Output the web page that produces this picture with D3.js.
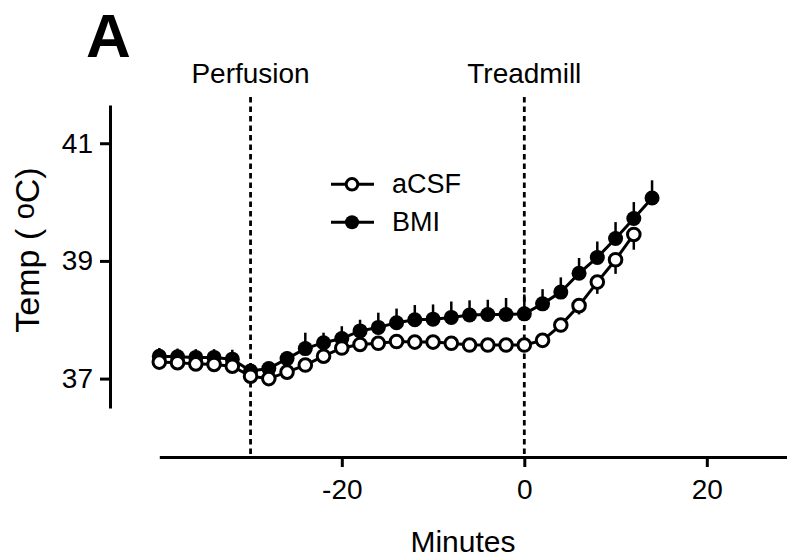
<!DOCTYPE html>
<html>
<head>
<meta charset="utf-8">
<script src="https://cdn.jsdelivr.net/npm/d3@7"></script>
<style>
  body { margin: 0; background: #fff; }
  svg text { font-family: "Liberation Sans", Arial, sans-serif; fill: #000; }
</style>
</head>
<body>
<div id="chart"></div>
<script>
// Données
const minutesACSF = [-40, -38, -36, -34, -32, -30, -28, -26, -24, -22, -20, -18, -16, -14,
  -12, -10, -8, -6, -4, -2, 0, 2, 4, 6, 8, 10, 12];
const tempACSF = [37.28, 37.27, 37.25, 37.24, 37.21, 37.04, 37.0, 37.11, 37.23, 37.38, 37.52,
  37.58, 37.6, 37.63, 37.62, 37.62, 37.6, 37.57, 37.57, 37.57, 37.57, 37.65, 37.91, 38.24,
  38.64, 39.02, 39.45];
const semACSF = [0.1, 0.1, 0.1, 0.1, 0.1, 0.1, 0.1, 0.1, 0.1, 0.1, 0.1, 0.1, 0.1, 0.1,
  0.1, 0.1, 0.1, 0.1, 0.1, 0.1, 0.1, 0.1, 0.12, 0.15, 0.2, 0.24, 0.26];

const minutesBMI = [-40, -38, -36, -34, -32, -30, -28, -26, -24, -22, -20, -18, -16, -14,
  -12, -10, -8, -6, -4, -2, 0, 2, 4, 6, 8, 10, 12, 14];
const tempBMI = [37.38, 37.37, 37.36, 37.36, 37.33, 37.13, 37.17, 37.34, 37.51, 37.61, 37.68,
  37.81, 37.87, 37.95, 38.0, 38.01, 38.04, 38.08, 38.09, 38.09, 38.1, 38.27, 38.47, 38.79,
  39.06, 39.38, 39.72, 40.07];
const semBMI = [0.14, 0.14, 0.14, 0.14, 0.16, 0.1, 0.1, 0.12, 0.27, 0.17, 0.21, 0.19, 0.25, 0.24,
  0.25, 0.25, 0.27, 0.25, 0.25, 0.28, 0.33, 0.25, 0.25, 0.26, 0.27, 0.28, 0.28, 0.3];

const xTicks = [-20, 0, 20];
const yTicks = [37, 39, 41];
const events = [{ t: -30, label: "Perfusion" }, { t: 0, label: "Treadmill" }];

const width = 787;
const height = 559;

const svg = d3
  .select("#chart")
  .append("svg")
  .attr("width", width)
  .attr("height", height);

// Échelles
const x = d3.scaleLinear().domain([-40, 29.5]).range([159.3, 793.5]);
const y = d3.scaleLinear().domain([36.5, 41.65]).range([408, 105]);
const xAxisY = 457;

// Lignes pointillées (événements)
svg
  .selectAll(".event")
  .data(events)
  .enter()
  .append("line")
  .attr("x1", (d) => x(d.t))
  .attr("x2", (d) => x(d.t))
  .attr("y1", 97)
  .attr("y2", xAxisY)
  .attr("stroke", "#000")
  .attr("stroke-width", 2.8)
  .attr("stroke-dasharray", "5.5,4");

svg
  .selectAll(".event-label")
  .data(events)
  .enter()
  .append("text")
  .attr("x", (d) => x(d.t))
  .attr("y", 83)
  .attr("text-anchor", "middle")
  .style("font-size", "28px")
  .text((d) => d.label);

// Axes
const gx = svg
  .append("g")
  .attr("transform", `translate(0,${xAxisY})`)
  .call(
    d3.axisBottom(x).tickValues(xTicks).tickFormat((d) => d).tickSize(10).tickSizeOuter(0).tickPadding(12)
  );

const gy = svg
  .append("g")
  .attr("transform", "translate(110,0)")
  .call(
    d3.axisLeft(y).tickValues(yTicks).tickFormat((d) => d).tickSize(10).tickSizeOuter(0).tickPadding(7)
  );

[gx, gy].forEach((g) => {
  g.select(".domain").attr("stroke-width", 3);
  g.selectAll(".tick line").attr("stroke-width", 3);
  g.selectAll(".tick text")
    .style("font-size", "28px")
    .style("font-family", '"Liberation Sans", Arial, sans-serif');
});

// Titres des axes
svg
  .append("text")
  .attr("x", 463)
  .attr("y", 552)
  .attr("text-anchor", "middle")
  .style("font-size", "30px")
  .text("Minutes");

const yTitle = svg
  .append("text")
  .attr("transform", "translate(39,250) rotate(-90)")
  .attr("text-anchor", "middle")
  .style("font-size", "34px");
yTitle.append("tspan").text("Temp ( ");
yTitle.append("tspan").attr("dy", -5).style("font-size", "29px").text("o");
yTitle.append("tspan").attr("dy", 5).text("C)");

// Lettre du panneau
svg
  .append("text")
  .attr("x", 86)
  .attr("y", 57)
  .style("font-size", "62px")
  .style("font-weight", "bold")
  .text("A");

// Séries
const acsf = minutesACSF.map((m, i) => ({ m, v: tempACSF[i], e: semACSF[i] }));
const bmi = minutesBMI.map((m, i) => ({ m, v: tempBMI[i], e: semBMI[i] }));

const line = d3
  .line()
  .x((d) => x(d.m))
  .y((d) => y(d.v));

// Barres d'erreur : BMI vers le haut, aCSF vers le bas
svg
  .selectAll(".err-bmi")
  .data(bmi)
  .enter()
  .append("line")
  .attr("x1", (d) => x(d.m))
  .attr("x2", (d) => x(d.m))
  .attr("y1", (d) => y(d.v))
  .attr("y2", (d) => y(d.v + d.e))
  .attr("stroke", "#000")
  .attr("stroke-width", 2.5);

svg
  .selectAll(".err-acsf")
  .data(acsf)
  .enter()
  .append("line")
  .attr("x1", (d) => x(d.m))
  .attr("x2", (d) => x(d.m))
  .attr("y1", (d) => y(d.v))
  .attr("y2", (d) => y(d.v - d.e))
  .attr("stroke", "#000")
  .attr("stroke-width", 2.5);

svg.append("path").datum(bmi).attr("d", line).attr("fill", "none").attr("stroke", "#000").attr("stroke-width", 3);
svg.append("path").datum(acsf).attr("d", line).attr("fill", "none").attr("stroke", "#000").attr("stroke-width", 3);

svg
  .selectAll(".pt-bmi")
  .data(bmi)
  .enter()
  .append("circle")
  .attr("cx", (d) => x(d.m))
  .attr("cy", (d) => y(d.v))
  .attr("r", 7.5)
  .attr("fill", "#000");

svg
  .selectAll(".pt-acsf")
  .data(acsf)
  .enter()
  .append("circle")
  .attr("cx", (d) => x(d.m))
  .attr("cy", (d) => y(d.v))
  .attr("r", 6.3)
  .attr("fill", "#fff")
  .attr("stroke", "#000")
  .attr("stroke-width", 3);

// Légende
const legend = [
  { name: "aCSF", fill: "#fff", y: 184.3 },
  { name: "BMI", fill: "#000", y: 222.3 }
];
const lg = svg.selectAll(".legend").data(legend).enter().append("g");
lg.append("line")
  .attr("x1", 331)
  .attr("x2", 374)
  .attr("y1", (d) => d.y)
  .attr("y2", (d) => d.y)
  .attr("stroke", "#000")
  .attr("stroke-width", 3);
lg.append("circle")
  .attr("cx", 352)
  .attr("cy", (d) => d.y)
  .attr("r", (d) => (d.fill === "#000" ? 7 : 5.8))
  .attr("fill", (d) => d.fill)
  .attr("stroke", "#000")
  .attr("stroke-width", (d) => (d.fill === "#000" ? 0 : 3));
lg.append("text")
  .attr("x", 392)
  .attr("y", (d) => d.y + 9)
  .style("font-size", "27px")
  .text((d) => d.name);
</script>
</body>
</html>
